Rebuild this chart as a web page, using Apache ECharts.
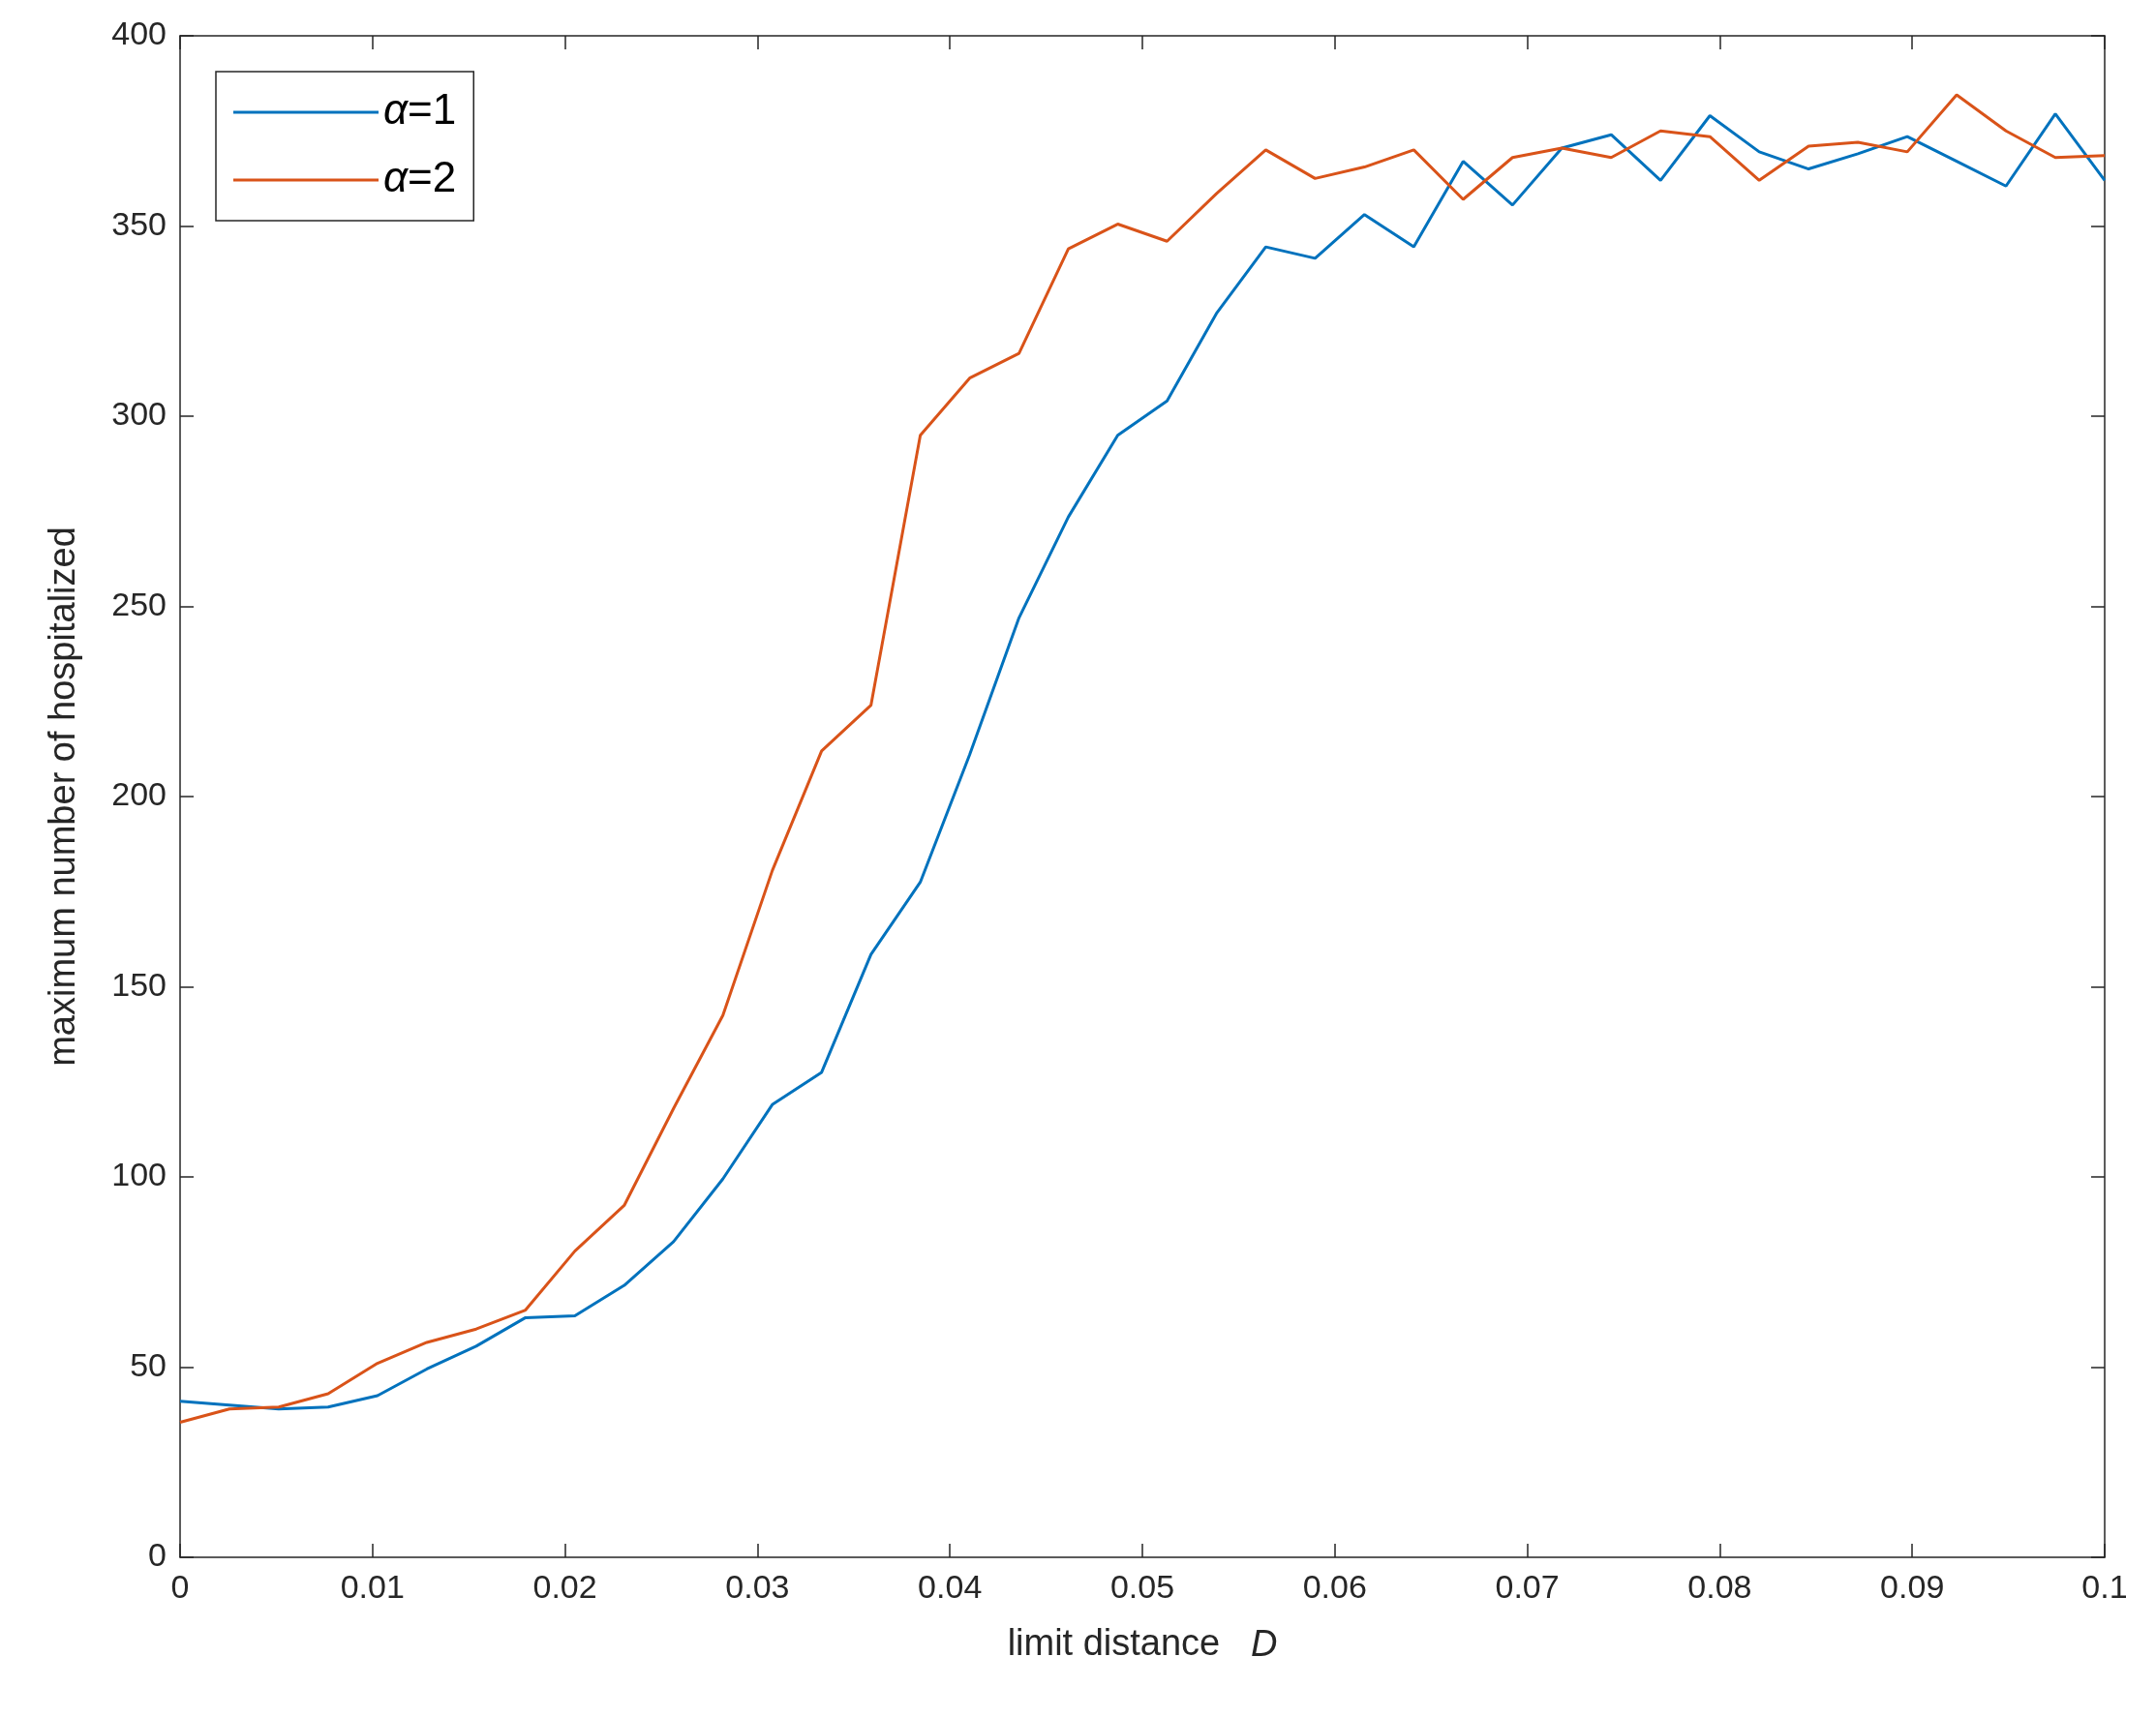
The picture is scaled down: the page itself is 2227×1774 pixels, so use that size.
<!DOCTYPE html><html><head><meta charset="utf-8">
<script src="https://cdn.jsdelivr.net/npm/echarts@6/dist/echarts.min.js"></script>
<style>html,body{margin:0;background:#fff}#c{width:2227px;height:1774px}</style></head><body><div id="c"></div>
<script>
const xTicks=[0,0.01,0.02,0.03,0.04,0.05,0.06,0.07,0.08,0.09,0.1];
const alpha1=[41,40,39,39.5,42.5,49.5,55.5,63,63.5,71.5,83,99.5,119,127.5,158.5,177.5,211,247,273.5,295,304,327,344.5,341.5,353,344.5,367,355.5,370.5,374,362,379,369.5,365,369,373.5,367,360.5,379.5,362];
const alpha2=[35.5,39,39.5,43,51,56.5,60,65,80.5,92.5,118,142.5,180.5,212,224,295,310,316.5,344,350.5,346,358.5,370,362.5,365.5,370,357,368,370.5,368,375,373.5,362,371,372,369.5,384.5,375,368,368.5];
const n=alpha1.length;
const xs=alpha1.map((_,i)=>i*0.1/(n-1));
const F='Helvetica, "Liberation Sans", Arial, sans-serif';
const c=echarts.init(document.getElementById('c'));
const axisCommon={axisLine:{show:true,onZero:false,lineStyle:{color:'#262626',width:1.5}},axisTick:{show:true,inside:true,length:14,lineStyle:{color:'#262626',width:1.5}},splitLine:{show:false}};
c.setOption({
 animation:false,
 grid:{left:186,right:53,top:37,bottom:165},
 legend:{left:223,top:74,orient:'vertical',itemWidth:150,itemHeight:3,itemGap:26,padding:[20,18,20,18],borderColor:'#262626',borderWidth:1.5,
  textStyle:{fontFamily:F,fontSize:44,color:'#000',rich:{i:{fontStyle:'italic',fontFamily:F,fontSize:44}}},
  icon:'rect',formatter:n=>n==='a1'?'{i|α}=1':'{i|α}=2'},
 xAxis:[{type:'value',min:0,max:0.1,interval:0.01,...axisCommon,
   axisLabel:{fontFamily:F,fontSize:34,color:'#262626',margin:16,formatter:v=>String(Math.round(v*100)/100)},
   name:'limit distance   {i|D}',nameLocation:'middle',nameGap:72,nameTextStyle:{fontFamily:F,fontSize:38,color:'#262626',rich:{i:{fontStyle:'italic',fontSize:38,fontFamily:F,color:'#262626'}}}},
  {type:'value',position:'top',min:0,max:0.1,interval:0.01,...axisCommon,axisLabel:{show:false}}],
 yAxis:[{type:'value',min:0,max:400,interval:50,...axisCommon,
   axisLabel:{fontFamily:F,fontSize:34,color:'#262626',margin:14},
   name:'maximum number of hospitalized',nameLocation:'middle',nameGap:100,nameTextStyle:{fontFamily:F,fontSize:38,color:'#262626'}},
  {type:'value',position:'right',min:0,max:400,interval:50,...axisCommon,axisLabel:{show:false}}],
 series:[
  {name:'a1',type:'line',data:xs.map((x,i)=>[x,alpha1[i]]),showSymbol:false,lineStyle:{color:'#0072BD',width:3},itemStyle:{color:'#0072BD'}},
  {name:'a2',type:'line',data:xs.map((x,i)=>[x,alpha2[i]]),showSymbol:false,lineStyle:{color:'#D95319',width:3},itemStyle:{color:'#D95319'}}
 ]
});
</script></body></html>
